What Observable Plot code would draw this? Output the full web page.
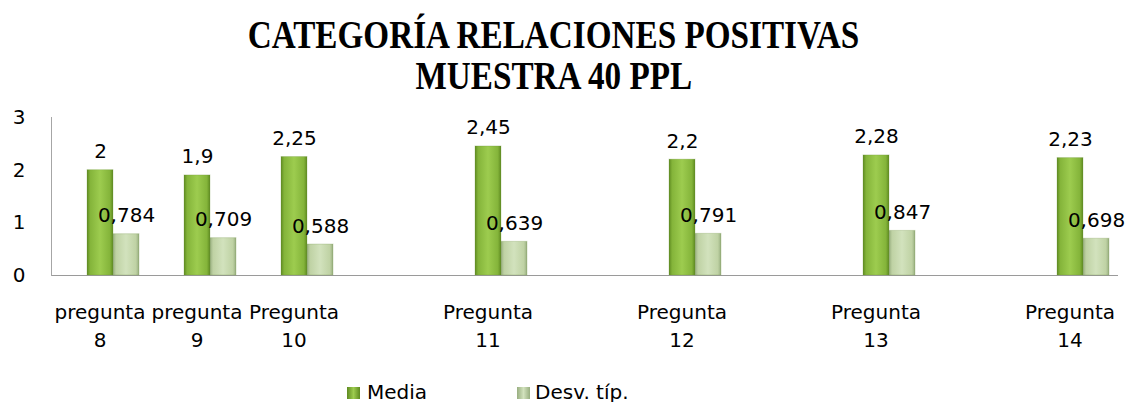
<!DOCTYPE html>
<html><head><meta charset="utf-8">
<script src="https://cdn.jsdelivr.net/npm/d3@7"></script>
<script src="https://cdn.jsdelivr.net/npm/@observablehq/plot@0.6"></script>
<style>
body{margin:0;background:#fff;}
#wrap{position:relative;width:1127px;height:402px;overflow:hidden;font-family:"DejaVu Sans",sans-serif;color:#000;}
.t{position:absolute;left:-10px;width:1127px;text-align:center;font-family:"Liberation Serif","Times New Roman",serif;font-weight:bold;font-size:41px;line-height:41px;white-space:nowrap;}
.t span{display:inline-block;transform:scaleX(0.81);transform-origin:center;}
#chart{position:absolute;left:0;top:100px;}
.leg{position:absolute;top:382px;font-size:20px;line-height:20px;white-space:nowrap;}
.sw{position:absolute;top:387px;width:13px;height:12px;}
</style>
</head><body>
<div id="wrap">
  <div class="t" style="top:14px"><span>CATEGORÍA RELACIONES POSITIVAS</span></div>
  <div class="t" style="top:55px"><span>MUESTRA 40 PPL</span></div>
  <div id="chart"></div>
  <div class="sw" style="left:347px;background:linear-gradient(to right,#5e8a20,#9dcc4f 50%,#5e8a20)"></div>
  <div class="leg" style="left:367px">Media</div>
  <div class="sw" style="left:517px;background:linear-gradient(to right,#98ae80,#d2e2bd 50%,#98ae80)"></div>
  <div class="leg" style="left:535px">Desv. típ.</div>
</div>
<script>
const categories = ["pregunta 8","pregunta 9","Pregunta 10","Pregunta 11","Pregunta 12","Pregunta 13","Pregunta 14"];
const slots = ["pregunta 8","pregunta 9","Pregunta 10","gap1","Pregunta 11","gap2","Pregunta 12","gap3","Pregunta 13","gap4","Pregunta 14"];
const series = ["Media","Desv. típ."];
const media = [2,1.9,2.25,2.45,2.2,2.28,2.23];
const desv = [0.784,0.709,0.588,0.639,0.791,0.847,0.698];
const yTicks = [0,1,2,3];

const rows = categories.flatMap((c,i)=>[
  {cat:c, serie:series[0], v:media[i]},
  {cat:c, serie:series[1], v:desv[i]}
]);
const baseRows = slots.map(s => ({slot:s, v:0}));
const fmt = v => String(v).replace(".", ",");

const plot = Plot.plot({
  width:1127, height:272,
  marginLeft:49, marginRight:8, marginTop:17, marginBottom:97,
  style:{fontFamily:"DejaVu Sans", fontSize:"20px", color:"#000", background:"transparent"},
  fx:{domain:slots, padding:0, axis:null},
  x:{domain:["", ...series], paddingInner:0, paddingOuter:0.33, axis:null},
  y:{domain:[0,3], axis:null},
  color:{domain:series, range:["url(#gM)","url(#gD)"]},
  marks:[
    Plot.ruleY(baseRows, {fx:"slot", y:"v", stroke:"#9a9a9a"}),
    Plot.axisY(yTicks, {fx: () => slots[0], tickSize:0, tickPadding:26, fontSize:20, fill:"#000",
      tickFormat: d => String(d), label:null}),
    Plot.axisFx({anchor:"bottom", tickSize:0, tickPadding:24, fontSize:20, lineHeight:1.4, fill:"#000", label:null,
      tickFormat: d => d.startsWith("gap") ? "" : d.replace(" ", "\n")}),
    Plot.barY(rows, {fx:"cat", x:"serie", y:"v", fill:"serie", stroke:"#6b8f3a", strokeOpacity:0.25}),
    Plot.text(rows, {fx:"cat", x:"serie", y:"v", text:d=>fmt(d.v), lineAnchor:"bottom", dy:-12, fontSize:20, fill:"#000"}),
    Plot.frame({anchor:"left", facetAnchor:"left", stroke:"#a6a6a6"})
  ]
});

const defs = d3.select(plot).insert("defs", ":first-child");
function grad(id, stops){
  const g = defs.append("linearGradient").attr("id", id).attr("x1","0").attr("x2","1").attr("y1","0").attr("y2","0");
  stops.forEach(([o,c]) => g.append("stop").attr("offset", o).attr("stop-color", c));
}
grad("gM", [[0,"#5e8a20"],[0.12,"#84b43a"],[0.5,"#9dcc4f"],[0.88,"#84b43a"],[1,"#5e8a20"]]);
grad("gD", [[0,"#98ae80"],[0.12,"#bfd2a4"],[0.5,"#d2e2bd"],[0.88,"#bfd2a4"],[1,"#98ae80"]]);

document.getElementById("chart").appendChild(plot);
</script>
</body></html>
